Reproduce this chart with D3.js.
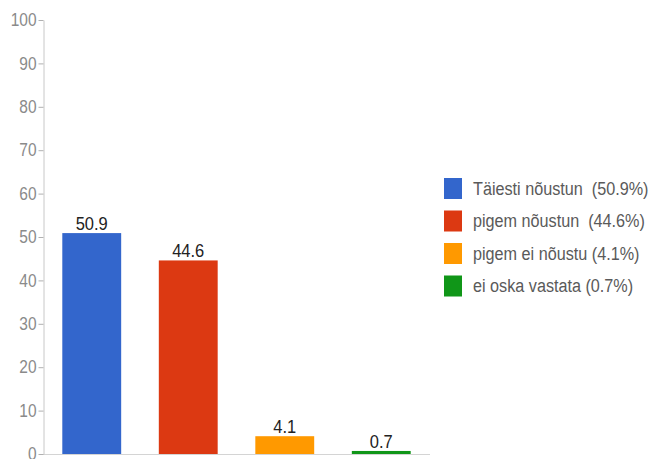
<!DOCTYPE html>
<html><head><meta charset="utf-8">
<script src="https://cdn.jsdelivr.net/npm/d3@7"></script>
<style>
html,body{margin:0;padding:0;background:#fff;}
svg{display:block;font-family:"Liberation Sans",Arial,sans-serif;}
text{white-space:pre;}
</style></head>
<body><svg id="c" width="651" height="459"></svg>
<script>
const categories = ["Täiesti nõustun", "pigem nõustun", "pigem ei nõustu", "ei oska vastata"];
const values = [50.9, 44.6, 4.1, 0.7];
const legendLabels = ["Täiesti nõustun  (50.9%)", "pigem nõustun  (44.6%)", "pigem ei nõustu (4.1%)", "ei oska vastata (0.7%)"];
const colors = ["#3366cc", "#dc3912", "#ff9900", "#109618"];
const yTicks = [0,10,20,30,40,50,60,70,80,90,100];

(function(){
const svg = d3.select("#c");
const pl = 43, pr = 430, pt = 20, pb = 454;
const x = d3.scaleBand().domain(categories).range([pl, pr]).paddingInner(0.39).paddingOuter(0.2);
const y = d3.scaleLinear().domain([0,100]).range([pb, pt]);

svg.append("line").attr("x1", pl).attr("x2", pr).attr("y1", pb+0.5).attr("y2", pb+0.5)
  .attr("stroke", "#d4d4d4").attr("stroke-width", 1);

const ya = svg.append("g").attr("transform", `translate(${pl+0.5},0)`)
  .call(d3.axisLeft(y).tickValues(yTicks).tickSize(5).tickSizeOuter(0).tickPadding(2));
ya.select(".domain").attr("stroke", "#c8c8c8");
ya.selectAll(".tick line").attr("stroke", "#b0b0b0");
ya.selectAll(".tick text").attr("fill", "#8a8a8a").attr("font-size", 15.5)
  .attr("font-family", "Liberation Sans, Arial, sans-serif")
  .attr("transform", "scale(1,1.22)").attr("dy", "0.3em");

svg.selectAll("rect.bar").data(values).join("rect").attr("class","bar")
  .attr("x", (d,i)=>x(categories[i])).attr("width", x.bandwidth())
  .attr("y", d=>y(d)).attr("height", d=>pb - y(d))
  .attr("fill", (d,i)=>colors[i]);

svg.selectAll("text.val").data(values).join("text").attr("class","val")
  .attr("x", (d,i)=>x(categories[i]) + x.bandwidth()/2)
  .attr("y", d=>(y(d)-3)/1.1)
  .attr("transform","scale(1,1.1)")
  .attr("text-anchor","middle").attr("font-size",16.5).attr("fill","#222")
  .text(d=>d.toFixed(1));

const lg = svg.append("g");
const rowY = [178, 210.5, 243, 275.5];
legendLabels.forEach((t,i)=>{
  lg.append("rect").attr("x",444).attr("y",rowY[i]).attr("width",18).attr("height",21).attr("fill",colors[i]);
  lg.append("text").attr("x",473).attr("y",(rowY[i]+17)/1.16).attr("transform","scale(1,1.16)")
    .attr("font-size",16.2).attr("fill","#5a5a5a").attr("xml:space","preserve").text(t);
});
})();
</script></body></html>
